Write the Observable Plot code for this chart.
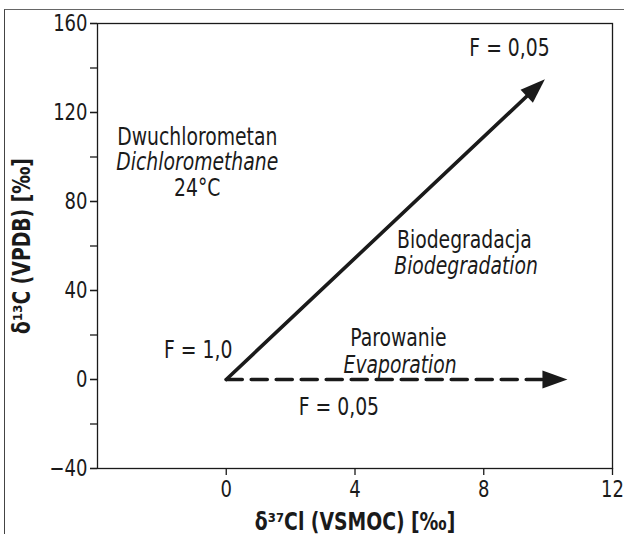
<!DOCTYPE html>
<html>
<head>
<meta charset="utf-8">
<script src="https://cdn.jsdelivr.net/npm/d3@7"></script>
<script src="https://cdn.jsdelivr.net/npm/@observablehq/plot@0.6"></script>
<style>
  html, body { margin: 0; padding: 0; background: #fff; }
  #wrap { position: relative; width: 624px; height: 534px; overflow: hidden; }
  #border { position: absolute; left: 4px; top: 9px; width: 640px; height: 560px;
            border-top: 1.5px solid #666; border-left: 1.5px solid #444; }
  #wrap svg { position: absolute; left: 0; top: 0; }
</style>
</head>
<body>
<div id="wrap"><div id="border"></div></div>
<script>
// ---- data ----
const xDomain = [-4, 12];
const yDomain = [-40, 160];
const xTicks = [0, 4, 8, 12];
const yTicksLabeled = [-40, 0, 40, 80, 120, 160];
const yTicksMinor = [-40, -20, 0, 20, 40, 60, 80, 100, 120, 140, 160];

// process vectors: start (x1,y1) to tip (x2,y2)
const processes = [
  {name: "Biodegradacja", x1: 0, y1: 0, x2: 9.9, y2: 135, dashed: false},
  {name: "Parowanie",     x1: 0, y1: 0, x2: 10.6, y2: 0,  dashed: true}
];

// annotation texts
const labelsRegular = [
  {x: 8.8,  y: 149,  text: "F = 0,05"},
  {x: -0.9, y: 109,  text: "Dwuchlorometan"},
  {x: -0.9, y: 86,   text: "24°C"},
  {x: 7.4,  y: 62.5, text: "Biodegradacja"},
  {x: 5.35, y: 18.4, text: "Parowanie"},
  {x: -0.87,y: 13,   text: "F = 1,0"},
  {x: 3.5,  y: -12.5,text: "F = 0,05"}
];
const labelsItalic = [
  {x: -0.9, y: 97.5, text: "Dichloromethane"},
  {x: 7.45, y: 51,   text: "Biodegradation"},
  {x: 5.4,  y: 6.3,  text: "Evaporation"}
];
const xLabel = "δ³⁷Cl (VSMOC) [‰]";
const yLabel = "δ¹³C (VPDB) [‰]";

// ---- layout ----
const W = 624, H = 534;
const mL = 97, mR = 12, mT = 23, mB = 66;
const FONT = "'Liberation Sans Narrow', 'Arial Narrow', 'DejaVu Sans Condensed', sans-serif";
const INK = "#1a1a1a";
const FS = 24;          // font size
const TFS = 23;         // tick label font size
const SQUEEZE = 0.87;   // horizontal condensing of the type

const kx = (W - mL - mR) / (xDomain[1] - xDomain[0]);
const ky = (H - mT - mB) / (yDomain[1] - yDomain[0]);
const heads = processes.map(p => ({
  x: p.x2, y: p.y2,
  angle: Math.atan2((p.x2 - p.x1) * kx, (p.y2 - p.y1) * ky) * 180 / Math.PI
}));

// filled arrowhead symbol, tip at origin pointing up
const arrowHead = {
  draw(context) {
    context.moveTo(0, 0);
    context.lineTo(-9, 25);
    context.lineTo(9, 25);
    context.closePath();
  }
};

const chart = Plot.plot({
  width: W,
  height: H,
  marginLeft: mL, marginRight: mR, marginTop: mT, marginBottom: mB,
  style: {fontFamily: FONT, fontSize: FS + "px", color: INK, background: "transparent"},
  x: {domain: xDomain},
  y: {domain: yDomain},
  marks: [
    Plot.frame({stroke: INK, strokeWidth: 1.3}),
    Plot.axisY({ticks: yTicksMinor, tickFormat: () => "", tickSize: 7, label: null, strokeWidth: 1.3}),
    Plot.axisY({ticks: yTicksLabeled, tickSize: 7, tickPadding: 3, label: null, fontSize: TFS, strokeWidth: 1.3}),
    Plot.axisX({ticks: xTicks, tickSize: 7, tickPadding: 5, label: null, fontSize: TFS, strokeWidth: 1.3}),
    Plot.arrow(processes.filter(d => !d.dashed), {
      x1: "x1", y1: "y1", x2: "x2", y2: "y2",
      stroke: INK, strokeWidth: 3.6, headLength: 0, insetEnd: 14
    }),
    Plot.arrow(processes.filter(d => d.dashed), {
      x1: "x1", y1: "y1", x2: "x2", y2: "y2",
      stroke: INK, strokeWidth: 3.6, headLength: 0, insetEnd: 14,
      strokeDasharray: "16,9"
    }),
    Plot.dot(heads, {x: "x", y: "y", rotate: "angle", symbol: arrowHead, fill: INK, stroke: "none", r: 5}),
    Plot.text(labelsRegular, {x: "x", y: "y", text: "text", fontSize: FS, fill: INK}),
    Plot.text(labelsItalic, {x: "x", y: "y", text: "text", fontSize: FS, fontStyle: "italic", fill: INK}),
    Plot.text([xLabel], {text: d => d, frameAnchor: "bottom", textAnchor: "middle", lineAnchor: "bottom", dy: 61, fontSize: FS, fontWeight: "bold", fill: INK}),
    Plot.text([yLabel], {text: d => d, frameAnchor: "left", textAnchor: "middle", dx: -75, rotate: -90, fontSize: FS, fontWeight: "bold", fill: INK})
  ]
});
// condense the type horizontally (the reference uses a condensed face)
chart.querySelectorAll("text").forEach(t => {
  const tr = t.getAttribute("transform") || "";
  t.setAttribute("transform", (tr + ` scale(${SQUEEZE},1)`).trim());
});
document.getElementById("wrap").appendChild(chart);
</script>
</body>
</html>
